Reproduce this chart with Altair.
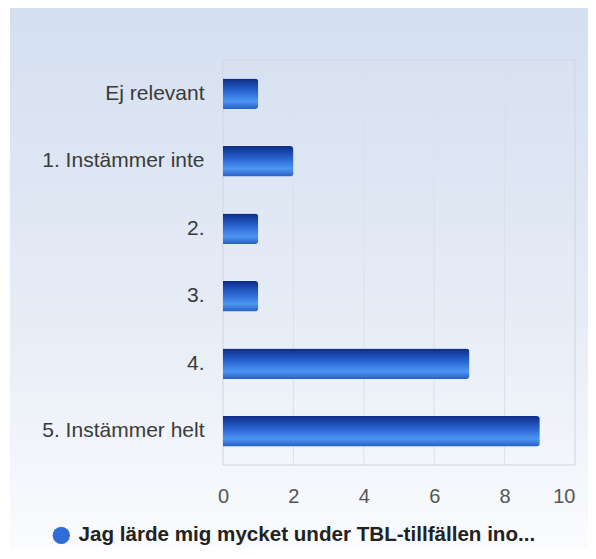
import altair as alt
import pandas as pd

categories = ["Ej relevant", "1. Instämmer inte", "2.", "3.", "4.", "5. Instämmer helt"]
values = [1, 2, 1, 1, 7, 9]
series_name = "Jag lärde mig mycket under TBL-tillfällen ino..."
x_ticks = [0, 2, 4, 6, 8, 10]
grid_values = [2, 4, 6, 8]

W, H = 352, 405
FONT = "Liberation Sans"

df = pd.DataFrame({"cat": categories, "val": values, "series": [series_name] * len(categories)})
grid_df = pd.DataFrame({"g": grid_values})
one = pd.DataFrame({"a": [0]})

bg_grad = alt.Gradient(
    gradient="linear", x1=0, x2=0, y1=0, y2=1,
    stops=[alt.GradientStop(offset=0, color="#d4dff0"),
           alt.GradientStop(offset=0.55, color="#e6ecf6"),
           alt.GradientStop(offset=1, color="#fbfcfe")],
)
bar_grad = alt.Gradient(
    gradient="linear", x1=0, x2=0, y1=0, y2=1,
    stops=[alt.GradientStop(offset=0, color="#0c2d86"),
           alt.GradientStop(offset=0.4, color="#2862cf"),
           alt.GradientStop(offset=0.75, color="#4c96f3"),
           alt.GradientStop(offset=1, color="#2a5ec6")],
)

x_scale = alt.Scale(domain=[0, 10], nice=False)
x_axis = alt.Axis(values=x_ticks, grid=False, domain=False, ticks=False,
                  labelFont=FONT, labelFontSize=20, labelColor="#555555",
                  labelPadding=21, title=None, zindex=1,
                  labelAlign={"condition": {"test": "datum.value == 10", "value": "right"}, "value": "center"},
                  labelFlush=False)

background = alt.Chart(one).mark_rect(fill=bg_grad, stroke=None).encode(
    x=alt.value(-213), x2=alt.value(380), y=alt.value(-53), y2=alt.value(500)
)

grid = alt.Chart(grid_df).mark_rule(color="#dae1eb", strokeWidth=1).encode(
    x=alt.X("g:Q", scale=x_scale, axis=x_axis),
    y=alt.value(0), y2=alt.value(H),
)

border = alt.Chart(one).mark_rect(fill=None, stroke="#cfd6e0", strokeWidth=1).encode(
    x=alt.value(0), x2=alt.value(W), y=alt.value(0), y2=alt.value(H)
)

bars = alt.Chart(df).mark_bar(fill=bar_grad, cornerRadiusEnd=3).encode(
    x=alt.X("val:Q", scale=x_scale, axis=x_axis),
    y=alt.Y("cat:N", sort=categories,
            scale=alt.Scale(paddingInner=0.55, paddingOuter=0.275),
            axis=alt.Axis(domain=False, ticks=False, grid=False, labelFont=FONT,
                          labelFontSize=21, labelColor="#3a3a3a", labelPadding=19,
                          title=None, zindex=1, labelLimit=300)),
)

legend_layer = alt.Chart(df).mark_point(opacity=0, filled=True).encode(
    x=alt.X("val:Q", scale=x_scale, axis=x_axis),
    y=alt.Y("cat:N", sort=categories),
    color=alt.Color("series:N", scale=alt.Scale(range=["#2f6cd6"]),
                    legend=alt.Legend(title=None, orient="none", legendX=-172, legendY=465,
                                      symbolType="circle", symbolSize=300, symbolOpacity=1,
                                      symbolStrokeWidth=0, labelFont=FONT, labelFontSize=20.6,
                                      labelFontWeight="bold", labelColor="#222222",
                                      labelLimit=0, labelOffset=7)),
)

chart = alt.layer(background, grid, border, bars, legend_layer).properties(
    width=W, height=H,
    padding={"left": 215, "top": 52, "right": 13, "bottom": 84},
    autosize=alt.AutoSizeParams(type="none"),
    background="white",
).configure_view(strokeWidth=0)

chart.save("out.html", embed_options={"renderer": "svg", "actions": False})
